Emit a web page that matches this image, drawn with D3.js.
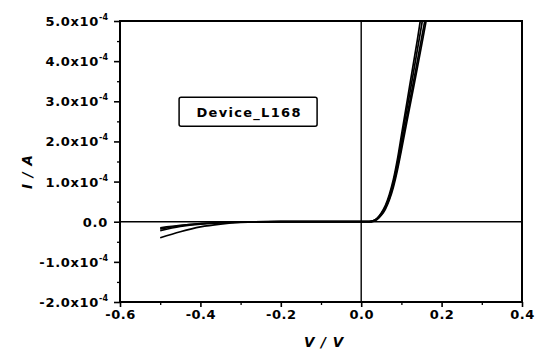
<!DOCTYPE html>
<html lang="en">
<head>
<meta charset="UTF-8" />
<title>Device_L168 I-V</title>
<script src="https://d3js.org/d3.v7.min.js"></script>
<style>
  body { margin: 0; background: #fff; }
  svg { display: block; }
  text { font-family: "DejaVu Sans", Arial, sans-serif; font-weight: bold; fill: #000; }
</style>
</head>
<body>
<div id="chart"></div>
<script>
// ----- Data (voltage in V, current in units of 1e-4 A) -----
const volts = [-0.5, -0.45, -0.4, -0.35, -0.3, -0.2, -0.1, 0.0, 0.02, 0.03, 0.04, 0.05, 0.06, 0.07, 0.08, 0.09, 0.10, 0.11, 0.12, 0.13, 0.14, 0.15, 0.16, 0.17, 0.18];
const curveA = [-0.15, -0.09, -0.05, -0.02, -0.01, 0, 0, 0, 0.0, 0.02, 0.09, 0.22, 0.40, 0.68, 1.05, 1.55, 2.15, 2.75, 3.35, 3.95, 4.55, 5.2, 5.8, 6.4, 7.0];
const curveB = [-0.18, -0.10, -0.05, -0.02, -0.01, 0, 0, 0, 0.0, 0.02, 0.08, 0.20, 0.37, 0.62, 0.98, 1.45, 2.02, 2.60, 3.15, 3.72, 4.30, 4.88, 5.5, 6.1, 6.7];
const curveC = [-0.22, -0.12, -0.06, -0.03, -0.01, 0, 0, 0, 0.0, 0.02, 0.07, 0.18, 0.34, 0.58, 0.92, 1.36, 1.88, 2.42, 2.95, 3.48, 4.02, 4.56, 5.1, 5.7, 6.3];
const curveD = [-0.40, -0.25, -0.13, -0.06, -0.02, 0, 0, 0, 0.0, 0.01, 0.06, 0.16, 0.31, 0.54, 0.86, 1.28, 1.78, 2.30, 2.82, 3.33, 3.85, 4.38, 4.92, 5.5, 6.1];
const curves = [curveA, curveB, curveC, curveD];

const xTicks = [-0.6, -0.4, -0.2, 0.0, 0.2, 0.4];
const xTickLabels = ["-0.6", "-0.4", "-0.2", "0.0", "0.2", "0.4"];
const yTicks = [-2, -1, 0, 1, 2, 3, 4, 5];
const yTickMant = ["-2.0x10", "-1.0x10", "0.0", "1.0x10", "2.0x10", "3.0x10", "4.0x10", "5.0x10"];
const yTickExp = ["-4", "-4", "", "-4", "-4", "-4", "-4", "-4"];
const labelText = "Device_L168";

// ----- Setup -----
const W = 544, H = 354;
const margin = { top: 21, right: 22, bottom: 52, left: 120 };
const iw = W - margin.left - margin.right;
const ih = H - margin.top - margin.bottom;

const svg = d3.select('#chart').append('svg')
  .attr('width', W).attr('height', H);
const g = svg.append('g')
  .attr('transform', `translate(${margin.left},${margin.top})`);

const x = d3.scaleLinear().domain([-0.6, 0.4]).range([0, iw]);
const y = d3.scaleLinear().domain([-2, 5]).range([ih, 0]);

// clip for curves
svg.append('defs').append('clipPath').attr('id', 'clip')
  .append('rect').attr('width', iw).attr('height', ih);

// zero lines
g.append('line')
  .attr('x1', 0).attr('x2', iw).attr('y1', y(0)).attr('y2', y(0))
  .attr('stroke', '#000').attr('stroke-width', 1.4);
g.append('line')
  .attr('x1', x(0)).attr('x2', x(0)).attr('y1', 0).attr('y2', ih)
  .attr('stroke', '#000').attr('stroke-width', 1.4);

// curves
const line = d3.line()
  .x((d, i) => x(volts[i]))
  .y(d => y(d))
  .curve(d3.curveMonotoneX);
g.append('g').attr('clip-path', 'url(#clip)')
  .selectAll('path').data(curves).join('path')
  .attr('d', line)
  .attr('fill', 'none')
  .attr('stroke', '#000')
  .attr('stroke-width', 1.7);

// frame
g.append('rect')
  .attr('width', iw).attr('height', ih)
  .attr('fill', 'none').attr('stroke', '#000').attr('stroke-width', 2);

// x axis ticks
const xAxis = d3.axisBottom(x).tickValues(xTicks)
  .tickFormat((d, i) => xTickLabels[i]).tickSize(5).tickPadding(3);
const xg = g.append('g').attr('transform', `translate(0,${ih})`).call(xAxis);
xg.select('.domain').remove();
xg.selectAll('line').attr('stroke-width', 1.6);
xg.selectAll('text')
  .attr('font-size', 13).attr('letter-spacing', 0.5)
  .attr('font-family', '"DejaVu Sans", Arial, sans-serif').attr('font-weight', 'bold');
g.append('g').attr('transform', `translate(0,${ih})`)
  .call(d3.axisBottom(x).tickValues(d3.range(-0.5, 0.4, 0.2)).tickSize(3).tickFormat(''))
  .call(s => s.select('.domain').remove())
  .selectAll('line').attr('stroke-width', 1.3);

// y axis ticks
const yAxis = d3.axisLeft(y).tickValues(yTicks).tickSize(6).tickFormat('');
const yg = g.append('g').call(yAxis);
yg.select('.domain').remove();
yg.selectAll('line').attr('stroke-width', 1.6);
g.append('g')
  .call(d3.axisLeft(y).tickValues(d3.range(-1.5, 5, 1)).tickSize(3).tickFormat(''))
  .call(s => s.select('.domain').remove())
  .selectAll('line').attr('stroke-width', 1.3);

// y tick labels with superscript exponent
yTicks.forEach((v, i) => {
  const t = g.append('text')
    .attr('x', -12)
    .attr('y', y(v) + 5)
    .attr('text-anchor', 'end')
    .attr('font-size', 13)
    .attr('letter-spacing', 0.7);
  t.append('tspan').text(yTickMant[i]);
  if (yTickExp[i]) {
    t.append('tspan').attr('dy', -6).attr('font-size', 8).attr('letter-spacing', 0).text(yTickExp[i]);
  }
});

// axis titles
svg.append('text')
  .attr('x', margin.left + iw / 2 + 3)
  .attr('y', 347)
  .attr('text-anchor', 'middle')
  .attr('font-size', 13.5)
  .attr('letter-spacing', 1)
  .attr('font-style', 'italic')
  .text('V / V');
svg.append('text')
  .attr('transform', `translate(32,${margin.top + y(1.25)}) rotate(-90)`)
  .attr('text-anchor', 'middle')
  .attr('font-size', 13.5)
  .attr('letter-spacing', 1)
  .attr('font-style', 'italic')
  .text('I / A');

// label box
const box = g.append('g').attr('transform', `translate(${x(-0.453)},${y(3.1)})`);
box.append('rect')
  .attr('width', 138).attr('height', 29).attr('rx', 2)
  .attr('fill', '#fff').attr('stroke', '#000').attr('stroke-width', 1.5);
box.append('text')
  .attr('x', 70).attr('y', 19.5)
  .attr('text-anchor', 'middle')
  .attr('font-size', 13)
  .attr('letter-spacing', 1.3)
  .text(labelText);
</script>
</body>
</html>
